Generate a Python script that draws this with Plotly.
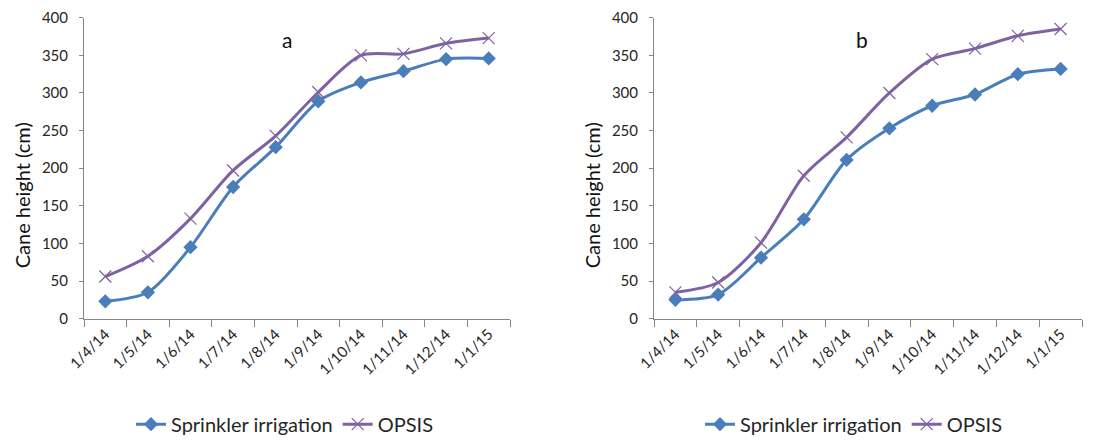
import plotly.graph_objects as go

dates = ["1/4/14", "1/5/14", "1/6/14", "1/7/14", "1/8/14", "1/9/14",
         "1/10/14", "1/11/14", "1/12/14", "1/1/15"]
sprinkler_a = [23, 35, 95, 175, 228, 289, 314, 329, 345, 346]
opsis_a = [56, 83, 133, 197, 243, 301, 350, 352, 366, 373]
sprinkler_b = [25, 32, 81, 132, 211, 253, 283, 298, 325, 332]
opsis_b = [35, 48, 101, 190, 241, 300, 345, 359, 376, 385]
y_ticks = [0, 50, 100, 150, 200, 250, 300, 350, 400]

BLUE = "#4A7EBB"
PURPLE = "#7F62A1"
FONT = "Lato"
TXT = "#262626"

fig = go.Figure()

def add_pair(xa, ya, spr, ops, legend):
    fig.add_trace(go.Scatter(
        x=dates, y=spr, name="Sprinkler irrigation", xaxis=xa, yaxis=ya,
        mode="lines+markers", line=dict(color=BLUE, width=3, shape="spline", smoothing=0.8),
        marker=dict(symbol="diamond", size=11, color=BLUE), legend=legend))
    fig.add_trace(go.Scatter(
        x=dates, y=ops, name="OPSIS", xaxis=xa, yaxis=ya,
        mode="lines+markers", line=dict(color=PURPLE, width=3, shape="spline", smoothing=0.8),
        marker=dict(symbol="x-thin", size=12, color=PURPLE, line=dict(color=PURPLE, width=1.2)),
        legend=legend))

add_pair("x", "y", sprinkler_a, opsis_a, "legend")
add_pair("x2", "y2", sprinkler_b, opsis_b, "legend2")

W, H = 1110, 444
yd = [1 - 323 / H, 1 - 18 / H]

xax = dict(type="category", range=[-0.5, 9.5], showgrid=False, showline=True,
           linecolor="#868686", linewidth=1, ticks="outside", tickson="boundaries",
           ticklen=7, tickcolor="#868686", tickangle=-45, automargin=False,
           tickfont=dict(family=FONT, size=15, color=TXT), zeroline=False)
yax = dict(range=[0, 400], tickvals=y_ticks, showgrid=False, showline=True,
           linecolor="#868686", linewidth=1, ticks="outside", ticklen=4,
           tickcolor="#868686", tickfont=dict(family=FONT, size=15, color=TXT),
           zeroline=False, ticklabelstandoff=8, automargin=False)

leg_font = dict(family=FONT, size=20, color=TXT)
ann_common = dict(xref="paper", yref="paper", showarrow=False,
                  xanchor="center", yanchor="middle")
fig.update_layout(
    template="none",
    width=W, height=H, margin=dict(l=0, r=0, t=0, b=0, pad=0),
    plot_bgcolor="white", paper_bgcolor="white",
    xaxis=dict(xax, domain=[84 / W, 510 / W], anchor="y"),
    yaxis=dict(yax, domain=yd, anchor="x"),
    xaxis2=dict(xax, domain=[654 / W, 1082 / W], anchor="y2"),
    yaxis2=dict(yax, domain=yd, anchor="x2"),
    legend=dict(orientation="h", x=131 / W, y=1 - 430 / H, xanchor="left", yanchor="middle",
                font=leg_font, itemwidth=30, tracegroupgap=0, bgcolor="rgba(0,0,0,0)"),
    legend2=dict(orientation="h", x=700 / W, y=1 - 430 / H, xanchor="left", yanchor="middle",
                 font=leg_font, itemwidth=30, tracegroupgap=0, bgcolor="rgba(0,0,0,0)"),
    annotations=[
        dict(ann_common, text="a", x=287 / W, y=1 - 40 / H,
             font=dict(family=FONT, size=21, color="#111")),
        dict(ann_common, text="b", x=862 / W, y=1 - 40 / H,
             font=dict(family=FONT, size=21, color="#111")),
        dict(ann_common, text="Cane height (cm)", x=22 / W, y=1 - 198 / H, textangle=-90,
             font=dict(family=FONT, size=20, color="#111")),
        dict(ann_common, text="Cane height (cm)", x=592 / W, y=1 - 198 / H, textangle=-90,
             font=dict(family=FONT, size=20, color="#111")),
    ],
)

fig.write_html("out.html", config={"displayModeBar": False},
               post_script="document.body.style.margin='0';document.body.style.overflow='hidden';")
